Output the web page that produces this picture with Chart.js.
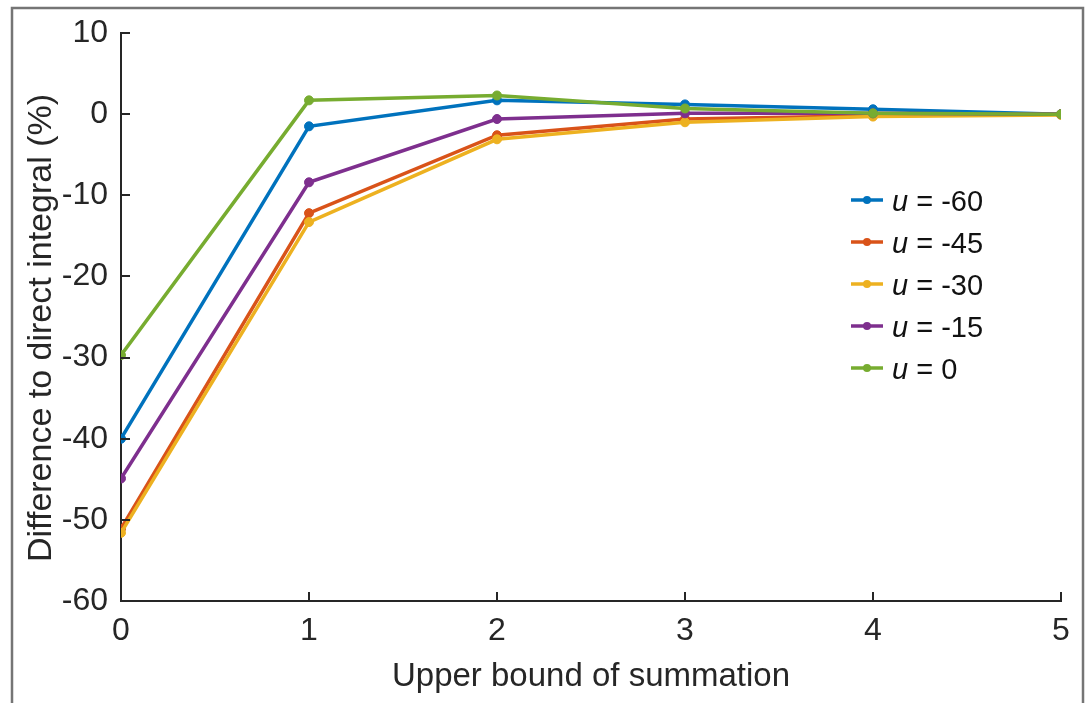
<!DOCTYPE html>
<html>
<head>
<meta charset="utf-8">
<script src="https://cdn.jsdelivr.net/npm/chart.js@4/dist/chart.umd.min.js"></script>
<style>
  html, body { margin: 0; padding: 0; background: #fff; }
  #wrap { width: 1089px; height: 703px; position: relative; }
</style>
</head>
<body>
<div id="wrap"><canvas id="c" width="1089" height="703"></canvas></div>
<script>
// ---- data ----
const xValues = [0, 1, 2, 3, 4, 5];
const seriesLabels = ['-60', '-45', '-30', '-15', '0'];
const uMinus60 = [-40.0, -1.5, 1.7, 1.2, 0.6, 0.0];
const uMinus45 = [-51.1, -12.2, -2.6, -0.6, -0.2, 0.0];
const uMinus30 = [-51.6, -13.3, -3.1, -1.0, -0.3, -0.1];
const uMinus15 = [-44.9, -8.4, -0.6, 0.1, 0.1, 0.0];
const uZero = [-29.7, 1.7, 2.3, 0.7, 0.1, 0.0];
const yTicks = [-60, -50, -40, -30, -20, -10, 0, 10];
const xTitle = 'Upper bound of summation';
const yTitle = 'Difference to direct integral (%)';

const seriesValues = [uMinus60, uMinus45, uMinus30, uMinus15, uZero];
const colors = ['#0072BD', '#D95319', '#EDB120', '#7E2F8E', '#77AC30'];
const FONT = '"Liberation Sans", Arial, Helvetica, sans-serif';
const AXIS = '#262626';

const datasets = seriesValues.map((vals, i) => ({
  label: 'u = ' + seriesLabels[i],
  data: xValues.map((x, j) => ({ x: x, y: vals[j] })),
  borderColor: colors[i],
  backgroundColor: colors[i],
  pointBackgroundColor: colors[i],
  pointBorderColor: colors[i],
  borderWidth: 3.5,
  pointRadius: 4.5,
  pointBorderWidth: 1,
  tension: 0,
  order: seriesValues.length - i
}));

const framePlugin = {
  id: 'frame',
  beforeDraw(chart) {
    const ctx = chart.ctx;
    ctx.save();
    ctx.fillStyle = '#fff';
    ctx.fillRect(0, 0, chart.width, chart.height);
    ctx.strokeStyle = '#757575';
    ctx.lineWidth = 2.5;
    ctx.strokeRect(12, 8, 1071, 720);
    ctx.restore();
  }
};

const innerTicksPlugin = {
  id: 'innerTicks',
  afterDraw(chart) {
    const ctx = chart.ctx;
    const xs = chart.scales.x, ys = chart.scales.y;
    const ca = chart.chartArea;
    ctx.save();
    ctx.strokeStyle = AXIS;
    ctx.lineWidth = 2;
    ctx.beginPath();
    yTicks.forEach(v => {
      const py = Math.round(ys.getPixelForValue(v));
      ctx.moveTo(ca.left, py);
      ctx.lineTo(ca.left + 9, py);
    });
    xValues.forEach(v => {
      const px = Math.round(xs.getPixelForValue(v));
      ctx.moveTo(px, ca.bottom);
      ctx.lineTo(px, ca.bottom - 9);
    });
    ctx.stroke();
    // y-axis title
    ctx.translate(42, 328);
    ctx.rotate(-Math.PI / 2);
    ctx.fillStyle = AXIS;
    ctx.font = '34px ' + FONT;
    ctx.textAlign = 'center';
    ctx.textBaseline = 'middle';
    ctx.fillText(yTitle, 0, 0);
    ctx.restore();
  }
};

const legendPlugin = {
  id: 'customLegend',
  afterDraw(chart) {
    const ctx = chart.ctx;
    ctx.save();
    const x0 = 851, x1 = 883, tx = 892;
    const rowY0 = 200, step = 42;
    seriesLabels.forEach((lab, i) => {
      const y = rowY0 + i * step;
      ctx.strokeStyle = colors[i];
      ctx.lineWidth = 3.5;
      ctx.beginPath();
      ctx.moveTo(x0, y);
      ctx.lineTo(x1, y);
      ctx.stroke();
      ctx.fillStyle = colors[i];
      ctx.beginPath();
      ctx.arc((x0 + x1) / 2, y, 4, 0, Math.PI * 2);
      ctx.fill();
      ctx.fillStyle = '#111';
      ctx.textBaseline = 'middle';
      ctx.textAlign = 'left';
      ctx.font = 'italic 29px ' + FONT;
      ctx.fillText('u', tx, y + 3);
      const w = ctx.measureText('u').width;
      ctx.font = '29px ' + FONT;
      ctx.fillText(' = ' + lab, tx + w, y + 3);
    });
    ctx.restore();
  }
};

new Chart(document.getElementById('c'), {
  type: 'line',
  data: { datasets },
  options: {
    responsive: false,
    animation: false,
    devicePixelRatio: 1,
    layout: { padding: { top: 33, right: 28, left: 0, bottom: 0 } },
    plugins: { legend: { display: false }, tooltip: { enabled: false } },
    scales: {
      x: {
        type: 'linear',
        min: 0, max: 5,
        afterFit(scale) { scale.height = 102; },
        afterBuildTicks(scale) { scale.ticks = xValues.map(v => ({ value: v })); },
        ticks: { color: AXIS, font: { family: FONT, size: 32 }, padding: 11, maxRotation: 0 },
        grid: { display: true, drawOnChartArea: false, drawTicks: false },
        border: { display: true, color: AXIS, width: 2 },
        title: { display: true, text: xTitle, color: AXIS,
                 font: { family: FONT, size: 33, lineHeight: 1.2 }, padding: { bottom: 6 } }
      },
      y: {
        type: 'linear',
        min: -60, max: 10,
        afterFit(scale) { scale.width = 121; },
        afterBuildTicks(scale) { scale.ticks = yTicks.map(v => ({ value: v })); },
        ticks: { color: AXIS, font: { family: FONT, size: 32 }, padding: 13 },
        grid: { display: true, drawOnChartArea: false, drawTicks: false },
        border: { display: true, color: AXIS, width: 2 },
        title: { display: false }
      }
    }
  },
  plugins: [framePlugin, innerTicksPlugin, legendPlugin]
});
</script>
</body>
</html>
